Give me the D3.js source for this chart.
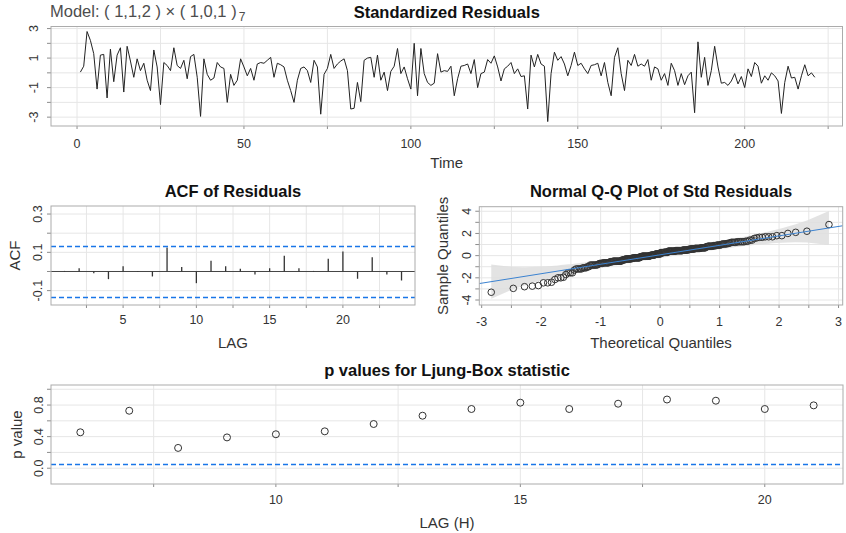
<!DOCTYPE html>
<html>
<head>
<meta charset="utf-8">
<script src="https://cdn.jsdelivr.net/npm/d3@7"></script>
<style>
  body { margin: 0; background: #fff; }
  text { font-family: "Liberation Sans", Arial, sans-serif; }
</style>
</head>
<body>
<div id="chart"></div>
<script>
const width = 846;
const height = 533;

// standardized residuals, t = 1..221
const resid = [
  0.05, 0.45, 2.8, 2.2, 1.3, -1.1, 1.2, 1.25, -1.7, 1.6,
  -0.6, 1.2, 1.7, -1.3, 1.8, 0.8, -0.3, 0.95, 0.15, 0.65,
  -0.5, -1.2, 1.55, 0.4, -2.15, 0.7, 0.5, 0.15, 1.7, 0.5,
  0.3, 0.85, -0.4, 1.1, 1.25, -0.3, -2.95,
  0.95, -0.1, -0.5, -0.35, 0.7, 0.4, 0.3, -2.0, -0.1, -0.85,
  -0.5, 0.95, 0.4, -0.2, 0.3, -0.5, 0.6, 0.7, 0.65, 0.85,
  1.05, -0.3, 0.65, 0.55, 0.4, -0.5, -1.2, -2.0, -0.5, 0.3,
  0.4, 0.15, -0.65, 0.85, 0.4, -2.8, -0.1,
  0.3, 1.25, 0.3, 0.6, 0.8, 0.95, 0.15, -2.45, -2.4, -0.65,
  -1.95, 0.85, 1.0, 1.05, -0.3, 1.2, -0.5, 0.05, -1.2, 0.1,
  0.45, 1.65, -0.05, 0.4, -0.4, -1.1, 2.0, -1.55, 1.65, -0.05,
  -0.65, -0.85, -0.7, 1.3, 0.05, 0.15, 0.1,
  0.45, -1.55, -0.4, 0.45, 0.5, 0.6, -0.05, 0.9, -1.0, -0.05,
  0.05, 0.9, 0.65, 1.15, 0.4, -0.55, 0.27, 0.45, 0.7, -0.05,
  0.27, -0.25, -0.2, -2.45, 1.2, 0.4, 1.25, 0.6, 0.45, -3.3,
  -0.05, 1.4, 0.85, 1.1, 0.6, -0.2, 0.5,
  1.4, 0.5, 0.65, 0.27, -0.05, 0.5, 0.55, 0.65, -0.2, 0.7,
  -0.65, -1.55, 1.05, 1.7, -0.05, -1.2, 0.85, 0.5, 1.25, 0.45,
  0.6, 0.45, 0.9, -0.5, 0.4, 0.27, -0.5, -0.05, -0.85, 0.65,
  0.15, -0.85, -0.05, -0.8, -0.2, 0.05, -2.7, 2.1,
  -0.3, 1.05, -0.85, 0.15, 1.8, 0.4, -0.7, -0.65, -0.85, -0.55,
  -0.05, -0.75, -0.25, -1.0, 0.27, -0.25, 0.7, 0.45, -0.7, -0.2,
  -0.5, 0.0, -0.2, -0.55, -2.75, -0.65, 0.45, -0.35, -0.3, -1.1,
  -0.2, 0.55, -0.2, 0.0, -0.3
];

// ACF of residuals, lags 1..24
const acfLags = d3.range(1, 25);
const acfVals = [
  0.003, 0.017, -0.009, -0.04, 0.028, 0.002, -0.026, 0.125, 0.023, -0.061,
  0.056, 0.028, 0.014, -0.016, 0.017, 0.082, 0.017, 0.003, 0.066, 0.104,
  -0.038, 0.075, -0.016, -0.047
];

// Ljung-Box p values, H = 6..21
const lbLags = d3.range(6, 22);
const lbPvals = [
  0.455, 0.728, 0.257, 0.39, 0.43, 0.467, 0.56, 0.665,
  0.75, 0.83, 0.75, 0.817, 0.87, 0.855, 0.75, 0.796
];

const modelText = "Model: ( 1,1,2 ) \u00d7 ( 1,0,1 )";
const modelSeason = "7";

const gridCol = "#e6e6e6";
const frameCol = "#ababab";
const tickCol = "#8c8c8c";
const textCol = "#333";
const blue = "#1976e8";

const svg = d3.select("#chart")
  .append("svg")
  .attr("width", width)
  .attr("height", height)
  .attr("viewBox", [0, 0, width, height]);

svg.append("rect").attr("width", width).attr("height", height).attr("fill", "#fff");

// inverse normal cdf (Acklam)
function qnorm(p) {
  const a = [-39.69683028665376, 220.9460984245205, -275.9285104469687, 138.357751867269, -30.66479806614716, 2.506628277459239];
  const b = [-54.47609879822406, 161.5858368580409, -155.6989798598866, 66.80131188771972, -13.28068155288572];
  const c = [-0.007784894002430293, -0.3223964580411365, -2.400758277161838, -2.549732539343734, 4.374664141464968, 2.938163982698783];
  const d = [0.007784695709041462, 0.3224671290700398, 2.445134137142996, 3.754408661907416];
  const pl = 0.02425;
  let q, r;
  if (p < pl) {
    q = Math.sqrt(-2 * Math.log(p));
    return (((((c[0] * q + c[1]) * q + c[2]) * q + c[3]) * q + c[4]) * q + c[5]) /
      ((((d[0] * q + d[1]) * q + d[2]) * q + d[3]) * q + 1);
  }
  if (p > 1 - pl) {
    q = Math.sqrt(-2 * Math.log(1 - p));
    return -(((((c[0] * q + c[1]) * q + c[2]) * q + c[3]) * q + c[4]) * q + c[5]) /
      ((((d[0] * q + d[1]) * q + d[2]) * q + d[3]) * q + 1);
  }
  q = p - 0.5;
  r = q * q;
  return (((((a[0] * r + a[1]) * r + a[2]) * r + a[3]) * r + a[4]) * r + a[5]) * q /
    (((((b[0] * r + b[1]) * r + b[2]) * r + b[3]) * r + b[4]) * r + 1);
}
const dnorm = (z) => Math.exp(-z * z / 2) / Math.sqrt(2 * Math.PI);

// one framed panel with grid, ticks and labels
function panel(o) {
  const x = d3.scaleLinear().domain(o.xd).range([o.left, o.right]);
  const y = d3.scaleLinear().domain(o.yd).range([o.bottom, o.top]);
  const g = svg.append("g");

  g.selectAll(null).data(o.xTicks).join("line")
    .attr("x1", (d) => x(d)).attr("x2", (d) => x(d))
    .attr("y1", o.top).attr("y2", o.bottom)
    .attr("stroke", gridCol).attr("stroke-width", 1);
  g.selectAll(null).data(o.yTicks).join("line")
    .attr("x1", o.left).attr("x2", o.right)
    .attr("y1", (d) => y(d)).attr("y2", (d) => y(d))
    .attr("stroke", gridCol).attr("stroke-width", 1);

  // tick marks
  g.selectAll(null).data(o.xTicks).join("line")
    .attr("x1", (d) => x(d)).attr("x2", (d) => x(d))
    .attr("y1", o.bottom).attr("y2", o.bottom + 3)
    .attr("stroke", tickCol);
  g.selectAll(null).data(o.yTicks).join("line")
    .attr("x1", o.left - 4).attr("x2", o.left)
    .attr("y1", (d) => y(d)).attr("y2", (d) => y(d))
    .attr("stroke", tickCol);

  // tick labels
  g.selectAll(null).data(o.xLabels).join("text")
    .attr("x", (d) => x(d)).attr("y", o.bottom + o.xLabOff)
    .attr("text-anchor", "middle")
    .attr("font-size", 12.5).attr("fill", textCol)
    .text(o.xFmt);
  g.selectAll(null).data(o.yLabels).join("text")
    .attr("transform", (d) => "translate(" + (o.left - o.yLabOff) + "," + y(d) + ") rotate(-90)")
    .attr("text-anchor", "middle")
    .attr("font-size", 12.5).attr("fill", textCol)
    .text(o.yFmt);

  // title
  if (o.title) {
    g.append("text")
      .attr("x", (o.left + o.right) / 2).attr("y", o.titleY)
      .attr("text-anchor", "middle")
      .attr("font-size", 16.5).attr("font-weight", "bold").attr("fill", "#111")
      .text(o.title);
  }
  if (o.xTitle) {
    g.append("text")
      .attr("x", (o.left + o.right) / 2).attr("y", o.xTitleY)
      .attr("text-anchor", "middle")
      .attr("font-size", 15).attr("fill", textCol)
      .text(o.xTitle);
  }
  if (o.yTitle) {
    g.append("text")
      .attr("transform", "translate(" + o.yTitleX + "," + (o.top + o.bottom) / 2 + ") rotate(-90)")
      .attr("text-anchor", "middle")
      .attr("font-size", 15).attr("fill", textCol)
      .text(o.yTitle);
  }

  const clipId = "clip" + Math.round(o.left) + "_" + Math.round(o.top);
  svg.append("clipPath").attr("id", clipId)
    .append("rect")
    .attr("x", o.left).attr("y", o.top)
    .attr("width", o.right - o.left).attr("height", o.bottom - o.top);
  const plot = svg.append("g").attr("clip-path", "url(#" + clipId + ")");

  // frame drawn last on its own layer
  const frame = () => svg.append("rect")
    .attr("x", o.left).attr("y", o.top)
    .attr("width", o.right - o.left).attr("height", o.bottom - o.top)
    .attr("fill", "none").attr("stroke", frameCol).attr("stroke-width", 1);

  return { x, y, plot, frame };
}

const oneDec = (d) => d.toFixed(1);
const plain = (d) => String(d);

// ---------- Standardized residuals ----------
const p1 = panel({
  left: 51, right: 842.5, top: 26.5, bottom: 126,
  xd: [-7.8, 229.3], yd: [-3.6, 3.14],
  xTicks: d3.range(0, 226, 25), xLabels: [0, 50, 100, 150, 200],
  yTicks: d3.range(-3, 4), yLabels: [-3, -1, 1, 3],
  xFmt: plain, yFmt: plain, xLabOff: 22, yLabOff: 13,
  title: "Standardized Residuals", titleY: 18,
  xTitle: "Time", xTitleY: 168
});
p1.plot.append("path")
  .datum(resid)
  .attr("fill", "none")
  .attr("stroke", "#222")
  .attr("stroke-width", 1)
  .attr("d", d3.line().x((d, i) => p1.x(i + 1)).y((d) => p1.y(d)));
p1.frame();

// model label with seasonal subscript
const mt = svg.append("text")
  .attr("x", 50).attr("y", 16.5)
  .attr("font-size", 16.5).attr("fill", "#4d4d4d");
mt.append("tspan").text(modelText);
mt.append("tspan").attr("dx", 2).attr("dy", 4).attr("font-size", 12).text(modelSeason);

// ---------- ACF of residuals ----------
const p2 = panel({
  left: 51, right: 415, top: 206, bottom: 305,
  xd: [0.08, 24.92], yd: [-0.175, 0.342],
  xTicks: d3.range(2.5, 24, 2.5), xLabels: [5, 10, 15, 20],
  yTicks: [-0.1, 0, 0.1, 0.2, 0.3], yLabels: [-0.1, 0.1, 0.3],
  xFmt: plain, yFmt: oneDec, xLabOff: 19, yLabOff: 9,
  title: "ACF of Residuals", titleY: 197,
  xTitle: "LAG", xTitleY: 348,
  yTitle: "ACF", yTitleX: 20
});
const acfBound = 2 / Math.sqrt(resid.length);
p2.plot.append("line")
  .attr("x1", 51).attr("x2", 415)
  .attr("y1", p2.y(0)).attr("y2", p2.y(0))
  .attr("stroke", "#444").attr("stroke-width", 1);
p2.plot.selectAll(null).data(acfLags).join("line")
  .attr("x1", (d) => p2.x(d)).attr("x2", (d) => p2.x(d))
  .attr("y1", p2.y(0)).attr("y2", (d, i) => p2.y(acfVals[i]))
  .attr("stroke", "#333").attr("stroke-width", 1.3);
p2.plot.selectAll(null).data([acfBound, -acfBound]).join("line")
  .attr("x1", 51).attr("x2", 415)
  .attr("y1", (d) => Math.round(p2.y(d)) + 0.5).attr("y2", (d) => Math.round(p2.y(d)) + 0.5)
  .attr("stroke", blue).attr("stroke-width", 1.3)
  .attr("stroke-dasharray", "5,3");
p2.frame();

// ---------- Normal Q-Q ----------
const p3 = panel({
  left: 479.3, right: 842.7, top: 206.7, bottom: 305,
  xd: [-3.04, 3.07], yd: [-4.45, 4.41],
  xTicks: d3.range(-3, 3.01, 0.5), xLabels: [-3, -2, -1, 0, 1, 2, 3],
  yTicks: d3.range(-4, 5), yLabels: [-4, -2, 0, 2, 4],
  xFmt: plain, yFmt: plain, xLabOff: 21, yLabOff: 8,
  title: "Normal Q-Q Plot of Std Residuals", titleY: 197,
  xTitle: "Theoretical Quantiles", xTitleY: 348,
  yTitle: "Sample Quantiles", yTitleX: 448
});
const n = resid.length;
const sorted = d3.sort(resid);
const probs = d3.range(1, n + 1).map((i) => (i - 0.5) / n);
const theo = probs.map(qnorm);
const yq1 = d3.quantile(sorted, 0.25);
const yq3 = d3.quantile(sorted, 0.75);
const slope = (yq3 - yq1) / (qnorm(0.75) - qnorm(0.25));
const intercept = yq1 - slope * qnorm(0.25);
const bandZ = 4;
const band = theo.map((z, i) => {
  const se = (slope / dnorm(z)) * Math.sqrt(probs[i] * (1 - probs[i]) / n);
  const fit = intercept + slope * z;
  return { z, lo: fit - bandZ * se, hi: fit + bandZ * se };
});
p3.plot.append("path")
  .datum(band)
  .attr("fill", "#dedede")
  .attr("fill-opacity", 0.85)
  .attr("d", d3.area().x((d) => p3.x(d.z)).y0((d) => p3.y(d.lo)).y1((d) => p3.y(d.hi)));
p3.plot.selectAll(null).data(sorted).join("circle")
  .attr("cx", (d, i) => p3.x(theo[i]))
  .attr("cy", (d) => p3.y(d))
  .attr("r", 3.3)
  .attr("fill", "none")
  .attr("stroke", "#333")
  .attr("stroke-width", 1);
p3.plot.append("line")
  .attr("x1", p3.x(-3.1)).attr("x2", p3.x(3.1))
  .attr("y1", p3.y(intercept + slope * -3.1)).attr("y2", p3.y(intercept + slope * 3.1))
  .attr("stroke", "#3b82d0").attr("stroke-width", 1);
p3.frame();

// ---------- Ljung-Box p values ----------
const p4 = panel({
  left: 51, right: 843, top: 385, bottom: 484,
  xd: [5.4, 21.6], yd: [-0.2, 1.054],
  xTicks: d3.range(7.5, 21, 2.5), xLabels: [10, 15, 20],
  yTicks: d3.range(0, 1.01, 0.2), yLabels: [0, 0.4, 0.8],
  xFmt: plain, yFmt: oneDec, xLabOff: 20, yLabOff: 8,
  title: "p values for Ljung-Box statistic", titleY: 376,
  xTitle: "LAG (H)", xTitleY: 528,
  yTitle: "p value", yTitleX: 22
});
p4.plot.append("line")
  .attr("x1", 51).attr("x2", 843)
  .attr("y1", Math.round(p4.y(0.05)) + 0.5).attr("y2", Math.round(p4.y(0.05)) + 0.5)
  .attr("stroke", blue).attr("stroke-width", 1.3)
  .attr("stroke-dasharray", "5,3");
p4.plot.selectAll(null).data(lbLags).join("circle")
  .attr("cx", (d) => p4.x(d))
  .attr("cy", (d, i) => p4.y(lbPvals[i]))
  .attr("r", 3.5)
  .attr("fill", "none")
  .attr("stroke", "#333")
  .attr("stroke-width", 1);
p4.frame();
</script>
</body>
</html>
